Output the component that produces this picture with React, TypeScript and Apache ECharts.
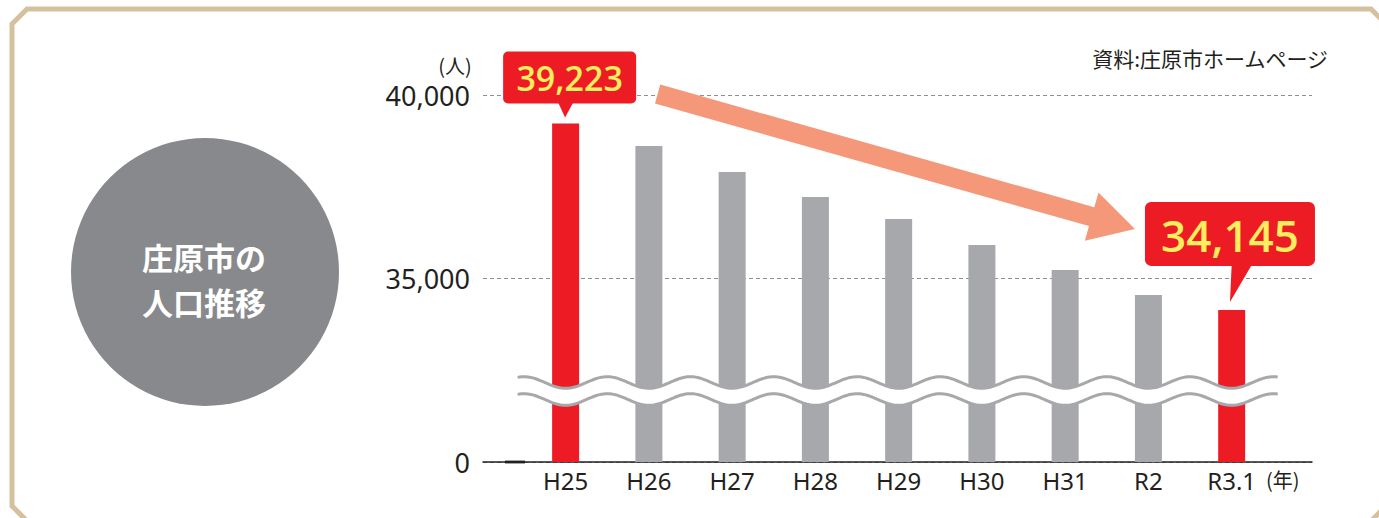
import React, { useEffect, useRef } from "react";
import * as echarts from "echarts";

// ---- data ----
const categories = ["H25", "H26", "H27", "H28", "H29", "H30", "H31", "R2", "R3.1"];
const population = [39223, 38610, 37900, 37220, 36620, 35910, 35230, 34550, 34145];
const highlighted = [0, 8];
const yTicks = [30000, 35000, 40000];
const yTickLabels = ["0", "35,000", "40,000"];
const calloutIndex = [0, 8];
const calloutLabels = ["39,223", "34,145"];
const titleLines = ["庄原市の", "人口推移"];
const sourceText = "資料:庄原市ホームページ";
const yUnit = "(人)";
const xUnit = "(年)";

const W = 1379;
const H = 518;
const RED = "#ed1c24";
const GRAY = "#a7a8ab";
const INK = "#231f20";
const YELLOW = "#fdee5f";
const ARROW = "#f5987a";
const FRAME = "#d5c19d";

export default function App() {
  const ref = useRef<HTMLDivElement>(null);

  useEffect(() => {
    document.body.style.margin = "0";
    const chart = echarts.init(ref.current as HTMLDivElement, null, {
      renderer: "svg",
      width: W,
      height: H,
    });
    const gridTop = 95;
    const gridBottom = 56;

    const option: any = {
      animation: false,
      backgroundColor: "#ffffff",
      grid: [
        { left: 483, right: 67, top: gridTop, bottom: gridBottom },
        { left: 524, right: 105.7, top: gridTop, bottom: gridBottom },
      ],
      xAxis: [
        {
          type: "value",
          gridIndex: 0,
          min: 0,
          max: 1,
          axisLine: { show: true, lineStyle: { color: INK, width: 1.5 } },
          axisTick: { show: false },
          axisLabel: { show: false },
          splitLine: { show: false },
        },
        {
          type: "category",
          gridIndex: 1,
          data: categories,
          axisLine: { show: false },
          axisTick: { show: false },
          axisLabel: {
            color: INK,
            fontSize: 24,
            fontFamily: "Noto Sans",
            margin: 6,
          },
        },
      ],
      yAxis: [
        {
          type: "value",
          gridIndex: 0,
          min: 30000,
          max: 40000,
          interval: 5000,
          axisLine: { show: false },
          axisTick: { show: false },
          axisLabel: {
            color: INK,
            fontSize: 27,
            fontFamily: "Noto Sans",
            margin: 13,
            formatter: (v: number) => {
              const i = yTicks.indexOf(v);
              return i >= 0 ? yTickLabels[i] : "";
            },
          },
          splitLine: {
            show: true,
            lineStyle: { color: "#8f8f8f", type: [4, 3], width: 1 },
          },
        },
        {
          type: "value",
          gridIndex: 1,
          min: 30000,
          max: 40000,
          show: false,
          splitLine: { show: false },
        },
      ],
      series: [
        {
          type: "bar",
          xAxisIndex: 1,
          yAxisIndex: 1,
          barWidth: 27,
          z: 2,
          data: population.map((v, i) => ({
            value: v,
            itemStyle: { color: highlighted.includes(i) ? RED : GRAY },
          })),
        },
        {
          type: "custom",
          xAxisIndex: 1,
          yAxisIndex: 1,
          z: 5,
          silent: true,
          data: [0],
          renderItem: (_params: any, api: any) => {
            const first = api.coord([0, 30000]);
            const last = api.coord([categories.length - 1, 30000]);
            const step = api.size([1, 0])[0];
            const x0 = first[0] - 48;
            const x1 = last[0] + 46;
            const base = first[1];
            const yc1 = base - 79.5;
            const yc2 = base - 62.5;
            const A = 5.8;
            const up: number[][] = [];
            const lo: number[][] = [];
            const add = (x: number) => {
              const c = Math.cos((2 * Math.PI * (x - first[0])) / step);
              up.push([x, yc1 + A * c]);
              lo.push([x, yc2 + A * c]);
            };
            for (let x = x0; x < x1; x += 2) add(x);
            add(x1);
            return {
              type: "group",
              children: [
                {
                  type: "polygon",
                  shape: { points: [...up, ...lo.slice().reverse()] },
                  style: { fill: "#ffffff" },
                },
                {
                  type: "polyline",
                  shape: { points: up },
                  style: { stroke: GRAY, lineWidth: 3, fill: null },
                },
                {
                  type: "polyline",
                  shape: { points: lo },
                  style: { stroke: GRAY, lineWidth: 3, fill: null },
                },
              ],
            };
          },
        },
      ],
    };

    chart.setOption(option);

    // bar tops in pixels, through the chart's own scales
    const tops = calloutIndex.map((i) =>
      chart.convertToPixel({ seriesIndex: 0 }, [i, population[i]]) as number[]
    );
    const [a, b] = tops;

    // arrow geometry
    const S = [a[0] + 92, a[1] - 29.5];
    const T = [b[0] - 96.7, b[1] - 81];
    const dx = T[0] - S[0];
    const dy = T[1] - S[1];
    const len = Math.hypot(dx, dy);
    const u = [dx / len, dy / len];
    const n = [-u[1], u[0]];
    const hw = 9.8;
    const HW = 25;
    const L = 45;
    const B = [T[0] - u[0] * L, T[1] - u[1] * L];
    const pt = (p: number[], k: number) => [p[0] + n[0] * k, p[1] + n[1] * k];
    const arrowPts = [pt(S, -hw), pt(B, -hw), pt(B, -HW), T, pt(B, HW), pt(B, hw), pt(S, hw)];

    const graphics: any[] = [
      {
        type: "polygon",
        z: -10,
        shape: {
          points: [
            [12, 24], [27, 9], [1371, 9], [1386, 24],
            [1386, 506], [1371, 521], [27, 521], [12, 506],
          ],
        },
        style: { fill: null, stroke: FRAME, lineWidth: 5 },
      },
      {
        type: "circle",
        shape: { cx: 205, cy: 272, r: 134 },
        style: { fill: "#88898c" },
      },
      ...titleLines.map((t, i) => ({
        type: "text",
        x: 204,
        y: 256.5 + i * 45,
        style: {
          text: t,
          fill: "#ffffff",
          fontSize: 31,
          fontWeight: "bold",
          fontFamily: "Noto Sans CJK JP",
          align: "center",
          verticalAlign: "middle",
        },
      })),
      {
        type: "text",
        x: 1328,
        y: 58,
        style: {
          text: sourceText,
          fill: INK,
          fontSize: 21,
          fontFamily: "Noto Sans CJK JP",
          align: "right",
          verticalAlign: "middle",
        },
      },
      {
        type: "text",
        x: 455,
        y: 65,
        style: {
          text: yUnit,
          fill: INK,
          fontSize: 20,
          fontFamily: "Noto Sans CJK JP",
          align: "center",
          verticalAlign: "middle",
        },
      },
      {
        type: "text",
        x: 1266,
        y: 479,
        style: {
          text: xUnit,
          fill: INK,
          fontSize: 20,
          fontFamily: "Noto Sans CJK JP",
          align: "left",
          verticalAlign: "middle",
        },
      },
      {
        type: "line",
        shape: { x1: 505, y1: 462, x2: 525, y2: 462 },
        style: { stroke: INK, lineWidth: 2.8 },
        z: 10,
      },
      {
        type: "polygon",
        z: 20,
        shape: { points: arrowPts },
        style: { fill: ARROW },
      },
      // callout 1
      {
        type: "rect",
        z: 30,
        shape: { x: a[0] - 62.5, y: a[1] - 72, width: 133, height: 52, r: 5 },
        style: { fill: RED },
      },
      {
        type: "polygon",
        z: 30,
        shape: { points: [[a[0] - 7.5, a[1] - 21], [a[0] + 7.5, a[1] - 21], [a[0] - 0.5, a[1] - 6]] },
        style: { fill: RED },
      },
      {
        type: "text",
        z: 31,
        x: a[0] + 4,
        y: a[1] - 46,
        style: {
          text: calloutLabels[0],
          fill: YELLOW,
          fontSize: 34,
          fontWeight: 600,
          fontFamily: "Open Sans",
          align: "center",
          verticalAlign: "middle",
        },
      },
      // callout 2
      {
        type: "rect",
        z: 30,
        shape: { x: b[0] - 86.7, y: b[1] - 108, width: 170, height: 64, r: 6 },
        style: { fill: RED },
      },
      {
        type: "polygon",
        z: 30,
        shape: { points: [[b[0], b[1] - 45], [b[0] + 20, b[1] - 45], [b[0] - 1.7, b[1] - 8]] },
        style: { fill: RED },
      },
      {
        type: "text",
        z: 31,
        x: b[0] - 1.7,
        y: b[1] - 75,
        style: {
          text: calloutLabels[1],
          fill: YELLOW,
          fontSize: 44,
          fontWeight: 600,
          fontFamily: "Open Sans",
          align: "center",
          verticalAlign: "middle",
        },
      },
    ];

    chart.setOption({ graphic: graphics });

    return () => {
      chart.dispose();
    };
  }, []);

  return <div ref={ref} style={{ width: W, height: H }} />;
}
